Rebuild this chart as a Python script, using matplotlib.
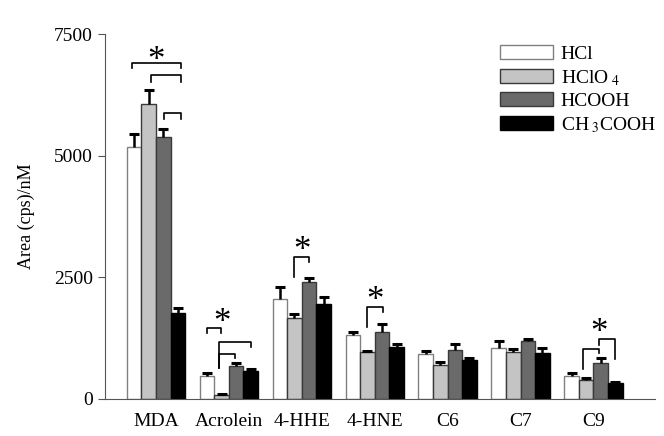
import numpy as np
import matplotlib
matplotlib.use("Agg")
import matplotlib.pyplot as plt

plt.rcParams['font.family'] = ['Liberation Serif', 'DejaVu Serif']
plt.rcParams['mathtext.fontset'] = 'stix'

compounds = ['MDA', 'Acrolein', '4-HHE', '4-HNE', 'C6', 'C7', 'C9']
acids = ['HCl', r'HClO$_{\ 4}$', 'HCOOH', r'CH$_{\ 3}$COOH']

hcl = [5180, 470, 2050, 1310, 930, 1050, 470]
hclo4 = [6060, 90, 1660, 960, 700, 970, 390]
hcooh = [5380, 680, 2400, 1380, 1010, 1190, 740]
ch3cooh = [1760, 580, 1950, 1070, 800, 950, 330]

hcl_err = [270, 60, 260, 60, 50, 140, 70]
hclo4_err = [290, 20, 90, 30, 50, 50, 50]
hcooh_err = [170, 50, 90, 150, 120, 40, 100]
ch3cooh_err = [100, 40, 150, 60, 50, 100, 20]

# significance brackets: (group, x_left, x_right, y_top, y_left_leg, y_right_leg)
brackets = [
    (0, -0.33, 0.35, 6900, 6800, 6800),
    (0, -0.07, 0.35, 6650, 6520, 6520),
    (0, 0.11, 0.35, 5870, 5750, 5750),
    (1, -0.30, -0.11, 1460, 1360, 1360),
    (1, -0.14, 0.30, 1170, 640, 1070),
    (1, -0.14, 0.08, 925, 640, 840),
    (2, -0.11, 0.10, 2920, 2500, 2810),
    (3, -0.10, 0.11, 1890, 1480, 1790),
    (6, -0.14, 0.07, 1030, 615, 945),
    (6, 0.07, 0.30, 1235, 1110, 820),
]
# stars: (group, x_offset, y)
stars = [(0, 0.0, 6930), (1, -0.09, 1550), (2, 0.0, 3030), (3, 0.01, 2000), (6, 0.07, 1350)]

series = [hcl, hclo4, hcooh, ch3cooh]
errors = [hcl_err, hclo4_err, hcooh_err, ch3cooh_err]
faces = ['white', '#c4c4c4', '#6a6a6a', 'black']
edges = ['#808080', '#3a3a3a', '#3a3a3a', 'black']

fig = plt.figure(figsize=(6.64, 4.36), dpi=100)
ax = fig.add_axes([0.158, 0.085, 0.828, 0.837])

x = np.arange(len(compounds))
w = 0.2
for i, (vals, errs) in enumerate(zip(series, errors)):
    pos = x + (i - 1.5) * w
    tops = np.array(vals) + np.array(errs)
    ax.bar(pos, vals, w, color=faces[i], edgecolor=edges[i], linewidth=1.0,
           label=acids[i], zorder=2)
    ax.vlines(pos, vals, tops, color='black', lw=1.8, zorder=3)
    ax.plot(pos, tops, ls='none', marker='_', ms=7, mew=2.2, color='black', zorder=3)

for g, xl, xr, yt, yl, yr in brackets:
    ax.plot([g + xl, g + xl, g + xr, g + xr], [yl, yt, yt, yr],
            color='black', lw=1.2, zorder=4)
for g, dx, y in stars:
    ax.text(g + dx, y, '*', ha='center', va='center', fontsize=25, zorder=5)

ax.set_xlim(-0.7, 6.84)
ax.set_ylim(0, 7500)
ax.set_yticks([0, 2500, 5000, 7500])
ax.tick_params(axis='y', direction='out', length=5, color='#555555', labelsize=14)
ax.set_xticks(x)
ax.set_xticklabels(compounds, fontsize=14)
ax.tick_params(axis='x', length=0, pad=10)
ax.set_ylabel('Area (cps)/nM', fontsize=13, labelpad=14)

for s in ['top', 'right']:
    ax.spines[s].set_visible(False)
ax.spines['left'].set_color('#555555')
ax.spines['bottom'].set_color('#555555')

ax.legend(loc='upper left', bbox_to_anchor=(0.705, 0.99), frameon=False,
          fontsize=14, handlelength=2.7, handleheight=0.7,
          handletextpad=0.4, labelspacing=0.25, borderaxespad=0)

fig.savefig('out.png', dpi=100)
